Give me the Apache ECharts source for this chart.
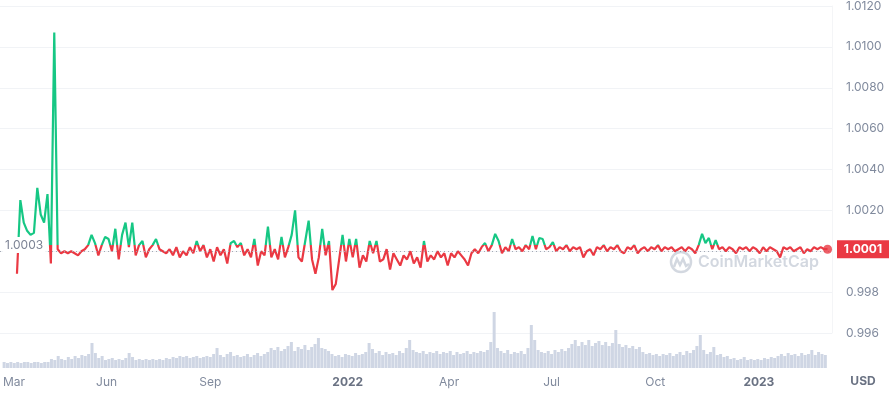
<!DOCTYPE html>
<html><head><meta charset="utf-8">
<script src="https://cdn.jsdelivr.net/npm/echarts@6/dist/echarts.min.js"></script>
<style>html,body{margin:0;padding:0;background:#fff}#c{width:889px;height:394px}</style>
</head><body><div id="c"></div>
<script>
// ---------- data ----------
const priceStart = '2021-03-16';
const volumeStart = '2021-03-02';
const stepDays = 3;
const prices = [
  0.9989,1.0025,1.0014,1.0010,1.0008,1.0009,1.0031,1.0018,1.0014,1.0028,
  0.9994,1.0107,1.0001,0.9999,1.0000,0.9999,1.0000,0.9999,0.9998,1.0000,
  1.0001,1.0003,1.0008,1.0004,0.9998,1.0003,1.0007,1.0006,1.0000,1.0011,
  0.9996,1.0008,1.0014,1.0002,1.0014,0.9998,1.0003,1.0005,0.9997,1.0001,
  1.0003,1.0006,1.0001,1.0000,0.9999,1.0001,0.9998,1.0002,0.9997,1.0000,
  0.9998,1.0002,0.9999,1.0005,1.0000,1.0003,0.9997,1.0001,0.9995,1.0002,
  0.9998,1.0001,0.9994,1.0004,1.0005,1.0002,1.0004,0.9998,1.0001,0.9997,
  1.0006,0.9993,1.0000,0.9998,1.0012,0.9997,1.0001,0.9996,1.0007,0.9997,
  1.0002,1.0008,1.0020,0.9997,0.9995,1.0005,1.0015,0.9996,0.9989,0.9997,
  1.0011,0.9998,1.0005,0.9981,0.9984,0.9996,1.0008,0.9995,1.0006,0.9997,
  1.0006,0.9992,0.9998,0.9995,1.0005,0.9999,1.0005,0.9995,0.9996,1.0001,
  0.9991,0.9999,0.9996,0.9993,0.9998,0.9996,1.0000,0.9994,0.9997,0.9992,
  1.0005,0.9995,0.9998,0.9996,1.0000,0.9997,0.9999,0.9993,0.9999,0.9997,
  1.0000,0.9998,0.9996,0.9993,0.9999,1.0001,0.9999,1.0002,1.0004,1.0000,
  1.0003,1.00085,1.0005,0.9999,1.0002,1.0000,1.0006,1.0001,1.0002,1.0000,
  1.0003,1.0001,1.00075,1.0001,1.00065,1.0006,1.0001,1.0002,1.00045,1.0000,
  1.0002,1.0001,1.0003,1.0000,1.0002,1.0001,1.0002,0.9997,1.0000,1.0001,
  0.9998,1.0002,1.0001,1.0003,1.0000,1.0002,1.0001,1.0003,1.0000,0.9999,
  1.0002,1.0001,1.0003,0.9999,1.0001,1.0002,1.0000,1.0002,1.0001,1.0003,
  1.0000,1.0002,1.0001,1.0002,1.0000,1.0001,1.0002,1.0000,1.0002,1.0001,
  0.9999,1.0003,1.00085,1.0004,1.00065,1.0001,1.00055,1.0001,1.0002,1.0000,
  1.0002,1.0001,0.9999,1.0002,1.0001,1.0002,1.0000,1.0002,1.0001,0.9999,
  1.0002,1.0000,1.0002,1.0001,1.0000,0.9997,1.0002,1.0001,1.0002,1.0000,
  1.0001,1.0002,0.9999,1.0001,1.0000,1.0002,1.0001,1.0002,1.0001,1.0001
];
const volumes = [
  1.2,1.0,1.2,1.0,1.2,1.0,1.2,1.2,1.0,1.2,
  1.2,1.0,1.2,1.2,1.8,1.6,2.4,1.8,1.6,2.2,
  1.8,2.4,2.0,2.6,2.4,2.8,5.0,3.0,2.0,2.4,
  1.6,1.8,2.0,1.6,1.8,1.6,2.0,3.0,2.2,1.6,
  1.8,1.6,1.8,1.6,1.8,1.6,1.8,1.6,2.0,1.8,
  2.2,2.0,2.4,2.2,2.4,2.0,2.2,2.4,2.0,2.2,
  2.4,2.2,2.8,4.0,2.6,2.2,2.8,3.2,2.4,2.6,
  2.2,2.4,2.8,2.2,2.6,3.0,2.4,2.8,3.2,4.0,
  3.6,4.2,3.4,3.8,4.4,5.2,3.4,4.2,3.8,4.6,
  3.6,4.2,4.8,6.0,4.0,3.8,3.4,2.8,2.4,2.6,
  2.2,2.8,2.6,2.4,3.0,2.6,2.8,3.2,5.0,3.8,
  3.0,3.4,2.6,3.2,2.8,3.0,2.6,3.4,3.0,4.0,
  5.6,3.6,3.2,3.0,3.4,2.8,3.2,3.0,3.4,2.8,
  3.2,3.0,3.4,2.6,3.2,2.8,3.0,3.4,2.8,3.2,
  3.0,3.4,3.2,3.6,5.2,11.2,4.0,3.4,3.0,3.6,
  2.8,3.2,3.0,3.4,2.8,4.0,8.6,5.6,3.6,3.2,
  3.0,3.4,2.8,3.6,3.2,3.8,3.4,4.0,4.8,5.6,
  4.4,5.2,4.6,5.6,4.4,5.0,5.4,4.6,5.2,4.4,
  5.0,7.6,4.8,4.2,4.6,4.0,4.4,3.8,4.2,3.2,
  2.8,3.0,2.6,2.8,2.4,2.8,2.6,3.0,2.4,2.8,
  3.2,2.6,3.4,3.0,3.6,4.4,6.6,3.6,2.8,3.2,
  4.2,2.6,2.8,2.2,2.4,1.8,2.0,1.6,1.8,2.2,
  1.6,1.8,1.6,1.8,1.6,2.0,1.8,2.2,2.0,2.4,
  2.8,2.4,3.0,2.6,2.8,2.4,3.0,2.6,2.8,3.6,
  2.6,3.2,2.8,2.6
];
const xLabelDates = ['2021-03-01','2021-06-01','2021-09-01','2022-01-01','2022-04-01','2022-07-01','2022-10-01','2023-01-01'];
const xLabelTexts = ['Mar','Jun','Sep','2022','Apr','Jul','Oct','2023'];
const xStart = '2021-03-01T00:00:00';
const xEnd = '2023-03-06T22:00:00';
const yMin = 0.996, yMax = 1.012, yStep = 0.002;
const volMax = 12.6;
const baseline = 1.0003;
const baselineText = '1.0003';
const currentText = '1.0001';
const unitText = 'USD';
const watermarkText = 'CoinMarketCap';

// ---------- build ----------
const DAY = 864e5;
function ts(s){ return Date.parse(s.length === 10 ? s + 'T00:00:00Z' : s + 'Z'); }
const priceData = prices.map((v, i) => [ts(priceStart) + i * stepDays * DAY, v]);
const volumeData = volumes.map((v, i) => [ts(volumeStart) + i * stepDays * DAY, v]);
const labelMap = {};
xLabelDates.forEach((d, i) => { labelMap[ts(d)] = xLabelTexts[i]; });

const GREEN = '#16c784', RED = '#ea3943';
const LABEL = '#808a9d', FONT = 'Inter';

const chart = echarts.init(document.getElementById('c'), null, {renderer: 'canvas'});
chart.setOption({
  animation: false,
  backgroundColor: '#fff',
  grid: [
    {left: 0, right: 57, top: 4, bottom: 61},
    {left: 0, right: 57, top: 305, bottom: 26}
  ],
  xAxis: [
    {type: 'value', gridIndex: 0, min: ts(xStart), max: ts(xEnd), show: false, scale: true},
    {type: 'value', gridIndex: 1, min: ts(xStart), max: ts(xEnd), scale: true,
     axisLine: {show: false}, axisTick: {show: false}, splitLine: {show: false},
     axisLabel: {
       customValues: xLabelDates.map(ts),
       formatter: v => { const t = labelMap[v] || ''; return /^\d{4}$/.test(t) ? '{y|' + t + '}' : t; },
       color: LABEL, fontSize: 12, fontFamily: FONT, margin: 8,
       alignMinLabel: 'left', hideOverlap: false, showMinLabel: true,
       rich: {y: {fontWeight: 'bold', color: '#6a7283', fontSize: 12, fontFamily: FONT}}
     }}
  ],
  yAxis: [
    {type: 'value', gridIndex: 0, position: 'right', min: yMin, max: yMax, interval: yStep,
     axisLine: {show: true, lineStyle: {color: '#f4f5f7'}}, axisTick: {show: false},
     splitLine: {lineStyle: {color: '#f1f3f6'}},
     axisLabel: {margin: 14, color: LABEL, fontSize: 12, fontFamily: FONT,
       formatter: v => Math.abs(v - 1) < 1e-9 ? '' : (v >= 1 ? v.toFixed(4) : v.toFixed(3))}},
    {type: 'value', gridIndex: 1, min: 0, max: volMax, show: false}
  ],
  series: [
    {type: 'bar', name: 'volume', xAxisIndex: 1, yAxisIndex: 1, data: volumeData,
     barWidth: 3, itemStyle: {color: '#cfd6e4'}, z: 1}
  ]
});

const last = priceData[priceData.length - 1];
const basePx = chart.convertToPixel({gridIndex: 0}, [ts(xStart), baseline]);
const rightEdge = chart.convertToPixel({gridIndex: 0}, [ts(xEnd), baseline])[0];
const curPx = chart.convertToPixel({gridIndex: 0}, [last[0], parseFloat(currentText)]);
const H = 394, off = basePx[1] / H;
const splitColor = {type: 'linear', x: 0, y: 0, x2: 0, y2: H, global: true,
  colorStops: [{offset: 0, color: GREEN}, {offset: off, color: GREEN}, {offset: off, color: RED}, {offset: 1, color: RED}]};
const wmX = 670, wmY = 262;
chart.setOption({
  series: [
    {type: 'bar', name: 'volume', xAxisIndex: 1, yAxisIndex: 1, data: volumeData,
     barWidth: 3, itemStyle: {color: '#cfd6e4'}, z: 1},
    {type: 'line', name: 'price', xAxisIndex: 0, yAxisIndex: 0, data: priceData,
     showSymbol: false, lineStyle: {width: 2.2, color: splitColor}, z: 3,
     markLine: {silent: true, symbol: 'none', label: {show: false},
       lineStyle: {color: '#a3a9b4', type: [1, 3], width: 1},
       data: [{yAxis: baseline}]}},
    {type: 'scatter', name: 'last', xAxisIndex: 0, yAxisIndex: 0,
     data: [last], symbolSize: 9, itemStyle: {color: RED}, z: 6}
  ],
  graphic: [
    {type: 'circle', z: 0, shape: {cx: wmX + 11, cy: wmY, r: 10},
     style: {fill: 'none', stroke: '#d3d8e0', lineWidth: 2.5}},
    {type: 'polyline', z: 0, shape: {points: [[wmX + 4, wmY + 5], [wmX + 7, wmY - 3], [wmX + 10, wmY + 3], [wmX + 13, wmY - 3], [wmX + 16, wmY + 4], [wmX + 19, wmY + 2]]},
     style: {fill: 'none', stroke: '#d3d8e0', lineWidth: 2.5}},
    {type: 'text', z: 0, x: wmX + 28, y: wmY,
     style: {text: watermarkText, fill: '#d3d8e0', font: '600 16px Inter', verticalAlign: 'middle', align: 'left'}},
    {type: 'text', z: 20, x: 3, y: basePx[1],
     style: {text: baselineText, fill: '#7c8394', font: '12px Inter', verticalAlign: 'middle', align: 'left',
       backgroundColor: '#fff', padding: [2, 2, 2, 2]}},
    {type: 'rect', z: 20, shape: {x: rightEdge + 5, y: curPx[1] - 9, width: 889 - rightEdge - 5, height: 18},
     style: {fill: RED}},
    {type: 'text', z: 21, x: rightEdge + 5 + (889 - rightEdge - 5) / 2, y: curPx[1],
     style: {text: currentText, fill: '#fff', font: 'bold 12px Inter', verticalAlign: 'middle', align: 'center'}},
    {type: 'text', z: 20, x: rightEdge + 31, y: 381,
     style: {text: unitText, fill: '#6a7283', font: 'bold 12px Inter', verticalAlign: 'middle', align: 'center'}}
  ]
});
</script>
</body></html>
